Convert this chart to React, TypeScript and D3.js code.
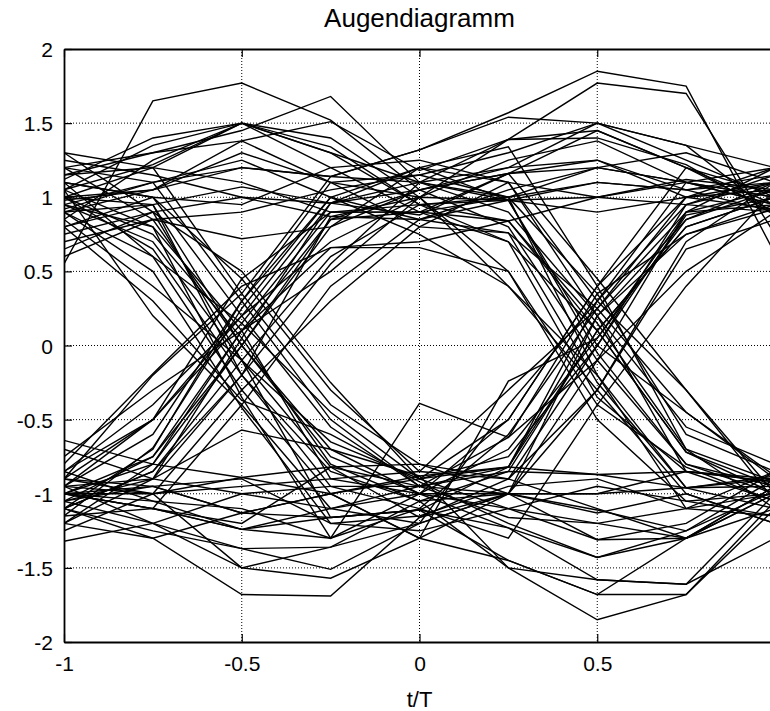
import { useEffect, useRef } from 'react';
import * as d3 from 'd3';

// sample instants of every trace (4 samples per symbol, two symbols)
const tGrid = [-1, -0.75, -0.5, -0.25, 0, 0.25, 0.5, 0.75, 1];

// traces grouped by the symbol signs at t = -1, 0, 1
const ppp = [
  [0.55, 1.65, 1.77, 1.52, 1.05, 1.16, 1.45, 1.2, 1.02],
  [1.05, 1.22, 1.5, 1.34, 0.95, 0.98, 1.1, 1.05, 0.9],
  [0.92, 1.1, 1.2, 1.14, 1.32, 1.57, 1.85, 1.75, 0.62],
  [1.12, 1.4, 1.5, 1.3, 1.1, 1.2, 1.25, 1.05, 1.15],
  [0.8, 0.95, 1.07, 0.96, 0.88, 1.16, 1.2, 1.1, 0.95],
  [1.25, 1.15, 1.0, 0.87, 0.85, 0.98, 1.0, 1.12, 1.05],
  [0.98, 1.05, 1.38, 1.51, 1.18, 1.39, 1.4, 1.22, 0.88],
  [1.2, 1.3, 1.45, 1.68, 1.1, 1.0, 1.2, 1.1, 1.0],
  [1.0, 1.05, 1.3, 1.1, 1.0, 1.39, 1.77, 1.7, 0.75],
  [0.7, 0.85, 0.9, 1.05, 1.15, 1.3, 1.5, 1.35, 1.2],
];

const ppn = [
  [1.0, 1.2, 1.5, 1.3, 0.95, 0.84, 0.1, -0.72, -0.95],
  [0.9, 1.05, 1.2, 1.14, 1.1, 0.98, -0.05, -0.8, -1.0],
  [1.15, 1.3, 1.38, 1.1, 0.8, 0.76, 0.25, -0.45, -0.9],
  [0.75, 0.9, 1.0, 0.96, 1.05, 1.16, 0.45, -0.3, -1.05],
  [1.05, 1.35, 1.5, 1.2, 0.9, 1.0, -0.2, -0.96, -0.88],
  [0.6, 0.85, 0.72, 0.8, 1.2, 1.34, 0.4, -0.7, -1.1],
  [1.3, 1.2, 1.1, 0.9, 0.9, 0.7, -0.35, -0.85, -0.92],
  [0.95, 1.1, 1.25, 1.0, 0.75, 0.4, -0.3, -1.0, -1.2],
  [1.1, 1.0, 0.95, 1.2, 1.25, 1.1, 0.2, -0.55, -0.8],
  [0.85, 1.25, 1.5, 1.4, 1.0, 0.5, -0.5, -1.05, -1.0],
];

const pnp = [
  [1.0, 0.75, 0.05, -0.8, -1.05, -0.85, 0.1, 0.8, 1.0],
  [0.9, 0.95, -0.2, -0.95, -1.1, -0.6, 0.25, 0.9, 0.95],
  [1.1, 0.6, 0.15, -0.45, -0.9, -0.75, 0.0, 0.95, 1.1],
  [0.85, 0.4, -0.1, -0.82, -1.16, -1.0, -0.1, 0.5, 0.9],
  [1.2, 1.1, 0.3, -0.5, -0.95, -0.82, 0.2, 0.85, 1.05],
  [0.95, 0.8, -0.35, -1.3, -0.39, -0.62, 0.35, 0.75, 0.92],
  [1.0, 0.95, 0.0, -0.75, -1.0, -0.7, 0.05, 0.9, 1.2],
  [1.05, 0.2, -0.4, -1.1, -1.2, -0.4, 0.3, 1.1, 1.0],
  [0.8, 1.0, 0.45, -0.3, -0.85, -0.9, -0.3, 0.65, 0.85],
  [1.3, 0.9, -0.1, -0.65, -0.9, -0.5, 0.4, 1.0, 1.1],
];

const pnn = [
  [1.05, 0.8, 0.1, -0.9, -1.0, -1.1, -1.31, -1.3, -0.95],
  [0.95, 0.7, -0.1, -1.16, -1.11, -1.23, -1.58, -1.61, -1.0],
  [1.1, 1.0, 0.2, -0.55, -0.95, -1.0, -1.0, -0.96, -0.9],
  [0.9, 0.6, -0.3, -1.0, -1.3, -1.45, -1.68, -1.3, -1.1],
  [1.2, 0.85, 0.0, -0.7, -0.88, -0.82, -0.87, -0.85, -0.92],
  [0.8, 0.3, -0.37, -0.6, -0.92, -1.2, -1.43, -1.25, -0.98],
  [1.0, 0.65, -0.2, -0.85, -1.05, -1.5, -1.85, -1.68, -1.05],
  [1.15, 1.2, 0.35, -0.4, -0.8, -1.0, -1.13, -1.0, -1.2],
  [0.9, 0.5, -0.42, -1.2, -1.15, -0.95, -0.9, -1.1, -0.85],
  [0.65, 0.9, 0.5, -0.25, -0.9, -1.1, -1.2, -1.3, -1.0],
];

const npp = [
  [-1.0, -0.8, 0.0, 0.85, 1.05, 1.2, 1.5, 1.25, 1.0],
  [-0.95, -0.5, 0.2, 0.96, 1.1, 1.39, 1.45, 1.2, 0.95],
  [-1.1, -0.85, -0.1, 0.6, 0.95, 1.0, 1.1, 1.05, 1.1],
  [-0.9, -0.2, 0.35, 1.14, 1.32, 1.54, 1.5, 1.35, 0.88],
  [-1.05, -0.75, 0.1, 0.66, 0.7, 0.84, 1.0, 1.1, 1.2],
  [-1.2, -0.9, -0.2, 0.87, 1.0, 0.98, 0.9, 1.0, 0.92],
  [-0.85, -0.5, 0.45, 0.9, 0.9, 1.16, 1.25, 1.0, 1.05],
  [-1.0, -1.1, -0.4, 0.4, 0.85, 1.05, 1.2, 1.3, 1.1],
  [-0.75, -0.3, 0.1, 0.5, 1.0, 1.25, 1.38, 1.1, 0.95],
  [-1.15, -0.69, 0.25, 1.0, 1.2, 1.1, 1.0, 0.95, 1.15],
];

const npn = [
  [-1.0, -0.75, 0.0, 0.8, 1.05, 0.8, -0.1, -0.8, -0.95],
  [-0.9, -0.5, 0.15, 0.9, 0.95, 0.7, 0.1, -0.72, -1.0],
  [-1.1, -0.85, -0.2, 0.55, 1.1, 0.9, 0.2, -0.85, -0.9],
  [-0.95, -0.6, 0.3, 1.0, 0.85, 0.76, -0.25, -0.96, -1.1],
  [-1.05, -0.9, 0.05, 0.96, 1.2, 0.98, 0.0, -0.45, -0.88],
  [-0.8, -0.19, 0.4, 0.66, 0.66, 0.5, -0.4, -0.82, -1.05],
  [-1.2, -0.8, 0.1, 0.85, 0.9, 0.84, 0.15, -0.7, -0.92],
  [-1.0, -1.0, -0.3, 0.3, 0.8, 1.1, 0.3, -0.3, -1.0],
  [-0.85, -0.4, 0.2, 0.7, 1.0, 0.4, -0.2, -1.1, -1.15],
  [-1.1, -0.7, 0.3, 1.1, 1.15, 1.0, 0.35, -0.6, -0.85],
];

const nnp = [
  [-1.0, -1.1, -1.24, -1.16, -1.11, -0.82, 0.1, 0.8, 1.0],
  [-0.9, -1.0, -0.89, -0.82, -0.95, -0.62, -0.1, 0.9, 1.05],
  [-1.1, -1.25, -1.37, -1.36, -1.2, -1.0, 0.2, 0.75, 0.95],
  [-0.95, -1.2, -1.5, -1.57, -1.3, -0.24, 0.05, 0.85, 1.1],
  [-1.05, -0.95, -1.13, -1.0, -0.9, -0.82, 0.3, 0.95, 0.9],
  [-0.7, -0.9, -1.0, -1.1, -1.0, -1.0, -0.3, 0.7, 1.1],
  [-1.2, -1.3, -1.68, -1.69, -1.16, -0.9, 0.0, 0.88, 1.0],
  [-0.95, -0.9, -0.57, -0.7, -1.0, -0.5, 0.4, 1.2, 0.9],
  [-1.0, -1.05, -1.1, -1.3, -1.1, -1.3, -0.4, 0.4, 1.05],
  [-1.25, -1.0, -0.95, -0.9, -0.85, -0.3, 0.25, 1.0, 1.2],
];

const nnn = [
  [-1.0, -1.1, -1.24, -1.3, -1.0, -1.23, -1.43, -1.3, -1.0],
  [-0.9, -0.95, -1.13, -1.16, -1.11, -1.45, -1.68, -1.68, -1.1],
  [-1.05, -1.2, -1.37, -1.51, -1.2, -1.0, -1.11, -1.25, -0.9],
  [-0.64, -0.8, -0.89, -1.0, -0.88, -1.5, -1.58, -1.61, -1.3],
  [-1.32, -1.2, -1.0, -0.95, -0.95, -0.85, -0.87, -0.96, -0.95],
  [-0.95, -1.0, -1.5, -1.36, -1.05, -1.0, -1.0, -0.85, -1.05],
  [-1.1, -1.3, -1.13, -1.0, -1.3, -1.0, -1.31, -1.2, -0.85],
  [-0.85, -1.05, -1.24, -1.1, -0.95, -1.16, -1.2, -1.1, -1.0],
  [-1.0, -0.95, -0.9, -1.2, -1.25, -1.1, -0.95, -1.05, -1.15],
  [-1.15, -1.1, -1.2, -0.82, -0.8, -0.9, -1.1, -1.3, -0.95],
];

const xTicks = [-1, -0.5, 0, 0.5, 1];
const yTicks = [-2, -1.5, -1, -0.5, 0, 0.5, 1, 1.5, 2];

export default function App() {
  const svgRef = useRef(null);

  useEffect(() => {
    const svg = d3.select(svgRef.current);
    const width = 770;
    const height = 711;
    const margin = { top: 49, right: -5, bottom: 69, left: 64 };
    const font = 'Liberation Sans, Arial, sans-serif';

    svg.selectAll('*').remove();

    const x = d3
      .scaleLinear()
      .domain([-1, 1])
      .range([margin.left, width - margin.right]);
    const y = d3
      .scaleLinear()
      .domain([-2, 2])
      .range([height - margin.bottom, margin.top]);

    svg
      .append('clipPath')
      .attr('id', 'plot-clip')
      .append('rect')
      .attr('x', margin.left)
      .attr('y', margin.top)
      .attr('width', x(1) - margin.left)
      .attr('height', y(-2) - margin.top);

    // dotted grid
    const grid = svg.append('g').attr('stroke', '#000').attr('stroke-dasharray', '1,2');
    xTicks
      .filter((t) => t > -1 && t < 1)
      .forEach((t) => {
        grid
          .append('line')
          .attr('x1', x(t))
          .attr('x2', x(t))
          .attr('y1', y(2))
          .attr('y2', y(-2));
      });
    yTicks
      .filter((t) => t > -2 && t < 2)
      .forEach((t) => {
        grid
          .append('line')
          .attr('x1', x(-1))
          .attr('x2', x(1))
          .attr('y1', y(t))
          .attr('y2', y(t));
      });

    const traces = [...ppp, ...ppn, ...pnp, ...pnn, ...npp, ...npn, ...nnp, ...nnn];
    const line = d3
      .line()
      .x((d, i) => x(tGrid[i]))
      .y((d) => y(d));

    svg
      .append('g')
      .attr('clip-path', 'url(#plot-clip)')
      .selectAll('path')
      .data(traces)
      .join('path')
      .attr('fill', 'none')
      .attr('stroke', '#000')
      .attr('stroke-width', 1.4)
      .attr('d', line);

    // axes box with inward ticks (matlab style), plain hyphen minus signs
    const label = (d) => String(d);
    const bottom = svg
      .append('g')
      .attr('transform', `translate(0,${y(-2)})`)
      .call(
        d3
          .axisBottom(x)
          .tickValues(xTicks.filter((t) => t < 1))
          .tickSizeInner(-8)
          .tickSizeOuter(0)
          .tickPadding(14)
          .tickFormat(label)
      );
    const top = svg
      .append('g')
      .attr('transform', `translate(0,${y(2)})`)
      .call(d3.axisTop(x).tickValues(xTicks).tickSizeInner(-8).tickSizeOuter(0).tickFormat(() => ''));
    const left = svg
      .append('g')
      .attr('transform', `translate(${x(-1)},0)`)
      .call(d3.axisLeft(y).tickValues(yTicks).tickSizeInner(-8).tickSizeOuter(0).tickPadding(11).tickFormat(label));

    [bottom, top, left].forEach((g) => {
      g.select('.domain').attr('stroke', '#000').attr('stroke-width', 1.8);
      g.selectAll('.tick line').attr('stroke', '#000').attr('stroke-width', 1.2);
      g.selectAll('text').attr('font-family', font).attr('font-size', 21).attr('fill', '#000');
    });
    left.selectAll('text').attr('dy', '0.36em');
    bottom.selectAll('text').attr('dy', '0.71em');

    svg
      .append('text')
      .attr('x', (x(-1) + x(1)) / 2)
      .attr('y', 27)
      .attr('text-anchor', 'middle')
      .attr('font-family', font)
      .attr('font-size', 26)
      .text('Augendiagramm');

    svg
      .append('text')
      .attr('x', (x(-1) + x(1)) / 2)
      .attr('y', 707)
      .attr('text-anchor', 'middle')
      .attr('font-family', font)
      .attr('font-size', 22)
      .text('t/T');
  }, []);

  return (
    <svg
      ref={svgRef}
      width={770}
      height={711}
      style={{ position: 'absolute', left: 0, top: 0, background: '#fff' }}
    ></svg>
  );
}
